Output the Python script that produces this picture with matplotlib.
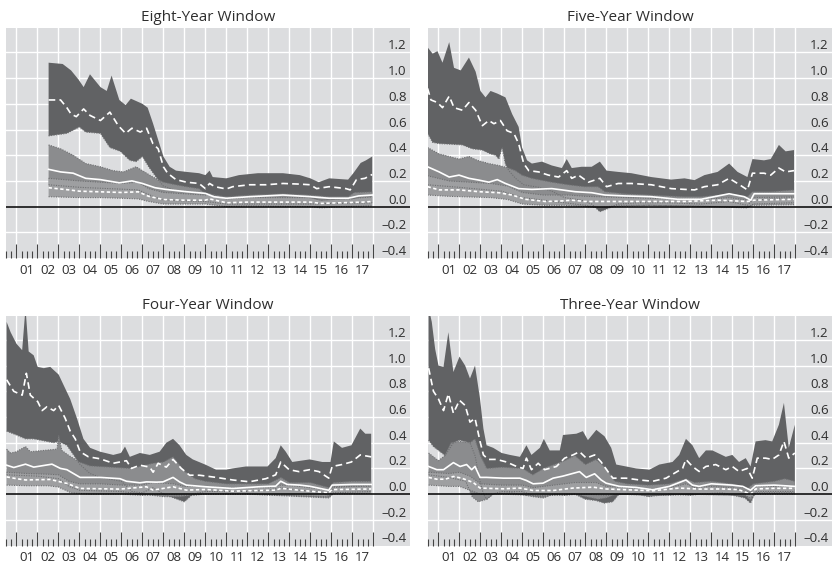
import matplotlib
matplotlib.use("Agg")
import matplotlib.pyplot as plt
import matplotlib.transforms as mtransforms
import numpy as np

plt.rcParams["font.family"] = ["Open Sans", "DejaVu Sans"]

# --- data: (year, value) pairs ------------------------------------------
# Eight-year window
W8_DARK_HI = [(2002.53, 1.12), (2003.2, 1.11), (2003.6, 1.06), (2003.95, 0.99), (2004.2, 0.93),
              (2004.5, 1.03), (2005.0, 0.93), (2005.3, 0.90), (2005.53, 1.02), (2005.9, 0.83),
              (2006.2, 0.79), (2006.45, 0.84), (2007.0, 0.80), (2007.25, 0.77), (2007.5, 0.65),
              (2007.75, 0.52), (2008.0, 0.39), (2008.3, 0.31), (2008.6, 0.28), (2009.1, 0.27),
              (2009.7, 0.26), (2010.0, 0.245), (2010.2, 0.28), (2010.35, 0.23), (2011.0, 0.22),
              (2011.6, 0.245), (2012.5, 0.26), (2013.7, 0.26), (2014.5, 0.245), (2015.0, 0.22),
              (2015.4, 0.19), (2015.9, 0.22), (2016.8, 0.21), (2017.05, 0.26), (2017.4, 0.34),
              (2017.65, 0.36), (2017.95, 0.39)]
W8_DARK_LO = [(2002.53, 0.55), (2003.4, 0.57), (2004.0, 0.62), (2004.3, 0.58), (2005.0, 0.57),
              (2005.45, 0.46), (2005.95, 0.43), (2006.4, 0.36), (2006.7, 0.35), (2007.0, 0.39),
              (2007.3, 0.31), (2007.7, 0.22), (2008.0, 0.16), (2008.5, 0.13), (2009.0, 0.12),
              (2009.7, 0.11), (2010.2, 0.10), (2011.0, 0.07), (2012.0, 0.08), (2013.0, 0.09),
              (2014.0, 0.09), (2015.0, 0.07), (2015.5, 0.05), (2016.5, 0.06), (2017.0, 0.06),
              (2017.5, 0.08), (2017.95, 0.09)]
W8_DARK_MID = [(2002.53, 0.83), (2003.1, 0.83), (2003.4, 0.77), (2003.6, 0.72), (2003.85, 0.70),
               (2004.2, 0.76), (2004.5, 0.71), (2005.0, 0.67), (2005.45, 0.735), (2005.85, 0.63),
               (2006.2, 0.57), (2006.5, 0.61), (2006.9, 0.58), (2007.2, 0.61), (2007.5, 0.49),
               (2007.75, 0.45), (2008.0, 0.31), (2008.2, 0.26), (2008.6, 0.21), (2009.1, 0.19),
               (2009.7, 0.18), (2010.0, 0.14), (2010.2, 0.18), (2010.45, 0.155), (2011.0, 0.137),
               (2011.3, 0.155), (2012.1, 0.17), (2012.9, 0.17), (2013.7, 0.18), (2014.5, 0.175),
               (2015.0, 0.17), (2015.3, 0.14), (2015.9, 0.155), (2016.7, 0.14), (2016.9, 0.13),
               (2017.2, 0.21), (2017.6, 0.22), (2017.95, 0.25)]
W8_MED_HI = [(2002.53, 0.48), (2003.1, 0.45), (2003.7, 0.40), (2004.3, 0.335), (2005.0, 0.31),
             (2005.6, 0.28), (2006.1, 0.27), (2006.7, 0.31), (2007.0, 0.28), (2007.5, 0.23),
             (2008.0, 0.19), (2008.6, 0.17), (2009.1, 0.155), (2009.7, 0.14), (2010.0, 0.10),
             (2011.0, 0.077), (2012.1, 0.09), (2013.7, 0.10), (2015.0, 0.09), (2015.9, 0.077),
             (2016.8, 0.077), (2017.1, 0.11), (2017.95, 0.115)]
W8_MED_MID = [(2002.53, 0.29), (2003.1, 0.27), (2003.7, 0.26), (2004.3, 0.22), (2005.0, 0.21),
              (2005.9, 0.185), (2006.5, 0.20), (2007.0, 0.18), (2007.6, 0.147), (2008.1, 0.134),
              (2009.1, 0.116), (2010.0, 0.103), (2010.4, 0.077), (2011.0, 0.065), (2012.1, 0.077),
              (2013.7, 0.09), (2015.0, 0.077), (2015.9, 0.065), (2016.8, 0.065), (2017.3, 0.083),
              (2017.95, 0.09)]
W8_MED_LO = [(2002.53, 0.17), (2004.0, 0.15), (2006.8, 0.13), (2007.5, 0.08), (2008.0, 0.05),
             (2010.0, 0.04), (2011.0, 0.02), (2015.0, 0.02), (2017.95, 0.03)]
W8_LIGHT_HI = [(2002.53, 0.22), (2004.0, 0.20), (2005.0, 0.19), (2006.0, 0.18), (2006.8, 0.19),
               (2007.3, 0.14), (2008.0, 0.11), (2009.0, 0.10), (2010.0, 0.09), (2010.2, 0.10),
               (2011.0, 0.06), (2012.0, 0.07), (2015.0, 0.07), (2015.5, 0.05), (2016.5, 0.06),
               (2017.5, 0.07), (2017.95, 0.075)]
W8_LIGHT_MID = [(2002.53, 0.147), (2003.5, 0.13), (2004.0, 0.12), (2005.0, 0.115), (2006.0, 0.11),
                (2006.8, 0.115), (2007.3, 0.08), (2008.0, 0.055), (2009.0, 0.05), (2010.0, 0.05),
                (2010.2, 0.06), (2011.0, 0.03), (2012.0, 0.035), (2015.0, 0.035), (2015.5, 0.025),
                (2016.5, 0.03), (2017.5, 0.035), (2017.95, 0.04)]
W8_LIGHT_LO = [(2002.53, 0.077), (2004.0, 0.07), (2005.0, 0.07), (2006.0, 0.065), (2006.8, 0.06),
               (2007.3, 0.04), (2008.0, 0.02), (2009.0, 0.02), (2010.0, 0.02), (2011.0, 0.0),
               (2012.0, 0.005), (2015.0, 0.0), (2015.5, -0.01), (2016.5, 0.0), (2017.95, 0.005)]

# Five-year window
W5_DARK_HI = [(2000.48, 1.24), (2000.72, 1.19), (2000.95, 1.21), (2001.19, 1.12), (2001.51, 1.28),
              (2001.74, 1.08), (2002.06, 1.06), (2002.45, 1.16), (2002.77, 1.05), (2003.0, 0.90),
              (2003.24, 0.85), (2003.48, 0.90), (2003.8, 0.88), (2004.19, 0.85), (2004.51, 0.72),
              (2004.82, 0.62), (2004.98, 0.46), (2005.22, 0.36), (2005.45, 0.335), (2005.93, 0.35),
              (2006.4, 0.32), (2006.88, 0.30), (2007.11, 0.37), (2007.35, 0.30), (2007.82, 0.31),
              (2008.3, 0.31), (2008.69, 0.35), (2009.01, 0.28), (2009.56, 0.27), (2010.19, 0.26),
              (2011.14, 0.23), (2012.09, 0.21), (2012.72, 0.22), (2013.2, 0.206), (2013.67, 0.245),
              (2014.3, 0.27), (2014.85, 0.335), (2015.25, 0.27), (2015.72, 0.23), (2015.96, 0.37),
              (2016.51, 0.36), (2016.83, 0.37), (2017.22, 0.48), (2017.54, 0.43), (2017.94, 0.44)]
W5_DARK_LO = [(2000.48, 0.57), (2000.72, 0.50), (2001.03, 0.49), (2001.66, 0.485), (2002.14, 0.48),
              (2002.61, 0.45), (2003.09, 0.44), (2003.48, 0.41), (2003.72, 0.40), (2003.88, 0.37),
              (2004.03, 0.46), (2004.19, 0.33), (2004.35, 0.28), (2004.67, 0.22), (2005.06, 0.17),
              (2005.77, 0.15), (2006.4, 0.12), (2007.0, 0.07), (2007.82, 0.05), (2008.3, 0.02),
              (2008.69, -0.04), (2009.01, -0.02), (2009.56, 0.02), (2010.5, 0.03), (2012.0, 0.03),
              (2013.5, 0.02), (2014.85, 0.04), (2015.72, 0.01), (2015.96, 0.05), (2017.0, 0.06),
              (2017.94, 0.07)]
W5_DARK_MID = [(2000.48, 0.92), (2000.64, 0.83), (2000.95, 0.81), (2001.19, 0.77), (2001.51, 0.86),
               (2001.74, 0.77), (2002.14, 0.75), (2002.45, 0.81), (2002.77, 0.75), (2003.09, 0.63),
               (2003.4, 0.67), (2003.64, 0.645), (2003.95, 0.67), (2004.27, 0.59), (2004.59, 0.57),
               (2004.82, 0.49), (2005.06, 0.335), (2005.3, 0.28), (2005.77, 0.27), (2006.24, 0.245),
               (2006.72, 0.23), (2007.11, 0.28), (2007.35, 0.22), (2007.67, 0.245), (2008.14, 0.19),
               (2008.69, 0.22), (2009.01, 0.155), (2009.56, 0.18), (2010.19, 0.18), (2011.14, 0.17),
               (2012.09, 0.14), (2012.72, 0.134), (2013.2, 0.13), (2013.67, 0.155), (2014.3, 0.17),
               (2014.85, 0.22), (2015.25, 0.18), (2015.72, 0.13), (2015.96, 0.26), (2016.51, 0.26),
               (2016.83, 0.245), (2017.22, 0.30), (2017.54, 0.27), (2017.94, 0.28)]
W5_MED_HI = [(2000.48, 0.46), (2001.03, 0.41), (2001.51, 0.39), (2001.98, 0.37), (2002.45, 0.39),
             (2002.85, 0.36), (2003.4, 0.335), (2003.88, 0.32), (2004.35, 0.30), (2004.67, 0.28),
             (2004.98, 0.245), (2005.45, 0.22), (2006.4, 0.19), (2007.19, 0.17), (2007.98, 0.155),
             (2008.61, 0.155), (2008.93, 0.116), (2009.88, 0.10), (2011.14, 0.09), (2012.72, 0.077),
             (2013.51, 0.077), (2014.3, 0.09), (2014.93, 0.10), (2015.72, 0.077), (2015.96, 0.116),
             (2016.83, 0.116), (2017.94, 0.13)]
W5_MED_MID = [(2000.48, 0.31), (2001.03, 0.27), (2001.51, 0.23), (2001.98, 0.245), (2002.45, 0.22),
              (2002.93, 0.206), (2003.4, 0.19), (2003.8, 0.21), (2004.19, 0.18), (2004.82, 0.14),
              (2005.45, 0.134), (2006.4, 0.14), (2006.88, 0.13), (2007.51, 0.116), (2008.3, 0.108),
              (2008.93, 0.09), (2009.88, 0.083), (2011.14, 0.077), (2012.41, 0.057), (2013.51, 0.057),
              (2014.85, 0.10), (2015.57, 0.077), (2015.88, 0.05), (2016.04, 0.10), (2017.94, 0.10)]
W5_MED_LO = [(2000.48, 0.17), (2002.0, 0.15), (2004.0, 0.12), (2005.0, 0.07), (2006.0, 0.05),
             (2007.0, 0.03), (2008.0, 0.01), (2008.7, -0.01), (2009.5, 0.01), (2011.0, 0.01),
             (2014.0, 0.0), (2015.7, -0.01), (2016.0, 0.02), (2017.94, 0.03)]
W5_LIGHT_HI = [(2000.48, 0.24), (2001.5, 0.20), (2002.5, 0.19), (2003.5, 0.18), (2004.3, 0.16),
               (2005.0, 0.11), (2006.0, 0.09), (2007.2, 0.09), (2008.0, 0.08), (2009.0, 0.075),
               (2010.0, 0.07), (2012.0, 0.06), (2014.0, 0.06), (2014.85, 0.07), (2015.72, 0.05),
               (2016.0, 0.07), (2017.94, 0.075)]
W5_LIGHT_MID = [(2000.48, 0.155), (2001.03, 0.13), (2001.98, 0.13), (2002.93, 0.116), (2003.88, 0.108),
                (2004.51, 0.09), (2005.14, 0.057), (2006.09, 0.04), (2006.88, 0.044), (2007.35, 0.05),
                (2007.98, 0.04), (2008.93, 0.04), (2009.88, 0.04), (2011.14, 0.04), (2012.72, 0.04),
                (2014.3, 0.05), (2015.72, 0.04), (2016.04, 0.05), (2017.94, 0.057)]
W5_LIGHT_LO = [(2000.48, 0.09), (2001.5, 0.08), (2002.5, 0.075), (2003.5, 0.07), (2004.3, 0.055),
               (2005.0, 0.02), (2006.0, 0.01), (2007.0, 0.01), (2008.0, 0.0), (2008.7, -0.01),
               (2009.5, 0.0), (2011.0, 0.01), (2013.0, 0.005), (2015.7, -0.005), (2016.0, 0.01),
               (2017.94, 0.015)]

# Four-year window
W4_DARK_HI = [(2000.53, 1.34), (2000.72, 1.26), (2001.0, 1.17), (2001.27, 1.12), (2001.43, 1.45),
              (2001.58, 1.11), (2001.82, 1.08), (2002.01, 0.99), (2002.3, 0.98), (2002.61, 0.99),
              (2003.01, 0.93), (2003.24, 0.85), (2003.56, 0.74), (2003.88, 0.59), (2004.19, 0.43),
              (2004.51, 0.36), (2004.98, 0.33), (2005.61, 0.305), (2005.98, 0.32), (2006.17, 0.37),
              (2006.4, 0.29), (2006.88, 0.32), (2007.35, 0.305), (2007.82, 0.33), (2008.14, 0.40),
              (2008.46, 0.43), (2008.77, 0.38), (2009.09, 0.305), (2009.4, 0.27), (2009.99, 0.23),
              (2010.51, 0.19), (2010.98, 0.19), (2011.3, 0.20), (2011.93, 0.215), (2012.96, 0.215),
              (2013.35, 0.28), (2013.59, 0.38), (2013.83, 0.33), (2014.14, 0.25), (2014.97, 0.27),
              (2015.57, 0.25), (2015.96, 0.25), (2016.12, 0.41), (2016.51, 0.36), (2016.96, 0.38),
              (2017.38, 0.51), (2017.62, 0.47), (2017.9, 0.47)]
W4_DARK_LO = [(2000.53, 0.49), (2001.0, 0.46), (2001.43, 0.43), (2001.82, 0.43), (2002.45, 0.41),
              (2002.77, 0.40), (2003.01, 0.41), (2003.4, 0.38), (2003.72, 0.305), (2004.03, 0.23),
              (2004.5, 0.16), (2005.0, 0.13), (2006.0, 0.10), (2006.5, 0.02), (2007.0, 0.01),
              (2007.5, 0.05), (2008.0, 0.0), (2008.5, -0.03), (2009.0, -0.06), (2009.4, 0.0),
              (2010.0, 0.02), (2011.0, 0.02), (2012.0, 0.02), (2013.0, 0.03), (2013.6, 0.05),
              (2014.5, 0.03), (2015.5, 0.02), (2015.9, -0.02), (2016.1, 0.05), (2017.0, 0.06),
              (2017.9, 0.07)]
W4_DARK_MID = [(2000.53, 0.89), (2000.87, 0.80), (2001.27, 0.77), (2001.47, 0.94), (2001.66, 0.77),
               (2002.01, 0.72), (2002.22, 0.65), (2002.45, 0.68), (2002.77, 0.65), (2003.01, 0.69),
               (2003.32, 0.59), (2003.56, 0.49), (2003.8, 0.43), (2004.03, 0.33), (2004.43, 0.29),
               (2004.98, 0.275), (2005.61, 0.24), (2006.24, 0.26), (2006.48, 0.20), (2006.88, 0.225),
               (2007.35, 0.21), (2007.51, 0.17), (2007.75, 0.24), (2008.14, 0.21), (2008.46, 0.27),
               (2008.85, 0.20), (2009.25, 0.147), (2009.72, 0.147), (2010.51, 0.13), (2011.3, 0.11),
               (2012.1, 0.096), (2012.88, 0.12), (2013.35, 0.15), (2013.59, 0.25), (2013.99, 0.19),
               (2014.46, 0.175), (2014.97, 0.19), (2015.41, 0.175), (2015.88, 0.124), (2016.04, 0.215),
               (2016.51, 0.23), (2016.96, 0.25), (2017.38, 0.305), (2017.9, 0.29)]
W4_MED_HI = [(2000.53, 0.35), (2000.72, 0.32), (2001.0, 0.33), (2001.43, 0.37), (2001.66, 0.33),
             (2002.3, 0.34), (2002.93, 0.35), (2003.01, 0.46), (2003.16, 0.34), (2003.5, 0.30),
             (2004.0, 0.25), (2004.5, 0.22), (2005.5, 0.21), (2006.5, 0.20), (2007.5, 0.24),
             (2008.0, 0.25), (2008.46, 0.29), (2009.0, 0.18), (2009.5, 0.12), (2010.0, 0.10),
             (2011.0, 0.08), (2012.0, 0.08), (2013.0, 0.08), (2013.6, 0.13), (2014.0, 0.09),
             (2015.0, 0.09), (2015.9, 0.05), (2016.1, 0.09), (2017.0, 0.10), (2017.9, 0.10)]
W4_MED_MID = [(2000.53, 0.225), (2000.87, 0.207), (2001.43, 0.233), (2001.82, 0.21), (2002.69, 0.233),
              (2003.09, 0.20), (2003.4, 0.19), (2004.03, 0.13), (2004.98, 0.13), (2005.93, 0.12),
              (2006.24, 0.10), (2006.88, 0.088), (2007.19, 0.095), (2007.67, 0.093), (2007.98, 0.095),
              (2008.46, 0.13), (2008.77, 0.095), (2009.09, 0.07), (2010.04, 0.057), (2011.3, 0.044),
              (2012.56, 0.057), (2013.35, 0.062), (2013.59, 0.10), (2013.9, 0.075), (2014.5, 0.07),
              (2015.0, 0.06), (2015.88, 0.03), (2016.04, 0.07), (2017.0, 0.075), (2017.9, 0.075)]
W4_MED_LO = [(2000.53, 0.15), (2002.0, 0.14), (2003.0, 0.12), (2003.5, 0.06), (2004.0, 0.03),
             (2006.0, 0.02), (2007.0, 0.0), (2008.0, -0.02), (2008.8, -0.02), (2009.3, -0.01),
             (2010.0, 0.0), (2012.0, 0.0), (2015.9, -0.03), (2016.1, 0.01), (2017.9, 0.02)]
W4_LIGHT_HI = [(2000.53, 0.17), (2001.5, 0.16), (2002.5, 0.155), (2003.0, 0.15), (2003.5, 0.10),
               (2004.0, 0.08), (2005.0, 0.08), (2006.0, 0.07), (2007.0, 0.07), (2007.5, 0.09),
               (2008.5, 0.08), (2009.0, 0.06), (2010.0, 0.06), (2011.0, 0.05), (2012.0, 0.05),
               (2013.0, 0.05), (2013.6, 0.07), (2014.5, 0.06), (2015.9, 0.03), (2016.1, 0.06),
               (2017.9, 0.06)]
W4_LIGHT_MID = [(2000.53, 0.134), (2001.0, 0.12), (2001.43, 0.11), (2002.61, 0.114), (2003.4, 0.083),
                (2004.03, 0.044), (2005.93, 0.039), (2007.19, 0.057), (2007.51, 0.031), (2008.46, 0.057),
                (2009.09, 0.031), (2010.04, 0.036), (2011.3, 0.023), (2013.35, 0.031), (2013.6, 0.045),
                (2014.5, 0.03), (2015.88, 0.01), (2016.04, 0.035), (2017.9, 0.04)]
W4_LIGHT_LO = [(2000.53, 0.07), (2001.5, 0.065), (2002.5, 0.065), (2003.0, 0.055), (2003.6, 0.01),
               (2004.5, 0.0), (2006.0, 0.0), (2007.0, -0.01), (2008.0, 0.0), (2009.0, -0.01),
               (2010.0, 0.0), (2012.0, 0.0), (2015.9, -0.02), (2016.1, 0.0), (2017.9, 0.005)]

# Three-year window
W3_DARK_HI = [(2000.53, 1.45), (2000.68, 1.34), (2000.84, 1.13), (2001.0, 1.0), (2001.24, 0.99),
              (2001.47, 1.26), (2001.71, 0.95), (2002.0, 1.07), (2002.27, 1.0), (2002.5, 0.9),
              (2002.74, 1.0), (2002.98, 0.74), (2003.14, 0.51), (2003.29, 0.38), (2003.61, 0.36),
              (2004.01, 0.32), (2004.4, 0.305), (2004.88, 0.29), (2005.19, 0.38), (2005.43, 0.305),
              (2005.83, 0.36), (2006.02, 0.43), (2006.3, 0.34), (2006.78, 0.34), (2006.93, 0.46),
              (2007.57, 0.47), (2007.88, 0.49), (2008.12, 0.42), (2008.52, 0.50), (2008.91, 0.45),
              (2009.23, 0.36), (2009.47, 0.23), (2009.94, 0.215), (2010.41, 0.20), (2011.05, 0.19),
              (2011.52, 0.23), (2012.15, 0.25), (2012.47, 0.305), (2012.79, 0.43), (2013.1, 0.38),
              (2013.42, 0.28), (2013.74, 0.34), (2014.05, 0.34), (2014.69, 0.29), (2015.0, 0.305),
              (2015.32, 0.25), (2015.64, 0.28), (2015.87, 0.215), (2016.11, 0.41), (2016.58, 0.42),
              (2016.9, 0.41), (2017.22, 0.54), (2017.46, 0.71), (2017.69, 0.36), (2017.98, 0.54)]
W3_DARK_LO = [(2000.53, 0.42), (2000.76, 0.37), (2001.0, 0.34), (2001.32, 0.30), (2001.71, 0.40),
              (2002.0, 0.42), (2002.5, 0.40), (2002.74, 0.30), (2002.98, 0.10), (2003.14, 0.0),
              (2003.3, -0.04), (2003.6, 0.0), (2004.0, 0.02), (2005.0, 0.02), (2005.5, -0.01),
              (2006.0, -0.02), (2006.5, 0.0), (2007.0, -0.01), (2007.5, 0.0), (2008.0, -0.04),
              (2008.5, -0.05), (2008.9, -0.07), (2009.3, -0.06), (2009.6, 0.0), (2010.5, 0.0),
              (2011.0, -0.02), (2011.5, -0.01), (2012.0, 0.0), (2013.0, -0.01), (2013.5, 0.0),
              (2014.5, 0.01), (2015.6, -0.03), (2015.87, -0.07), (2016.11, 0.02), (2017.0, 0.02),
              (2017.98, 0.02)]
W3_DARK_MID = [(2000.53, 0.98), (2000.76, 0.80), (2001.0, 0.74), (2001.24, 0.65), (2001.47, 0.78),
               (2001.71, 0.63), (2002.0, 0.73), (2002.27, 0.69), (2002.5, 0.56), (2002.74, 0.59),
               (2002.98, 0.41), (2003.14, 0.305), (2003.37, 0.27), (2003.77, 0.27), (2004.24, 0.25),
               (2004.72, 0.215), (2005.03, 0.20), (2005.19, 0.28), (2005.43, 0.19), (2005.75, 0.24),
               (2006.06, 0.19), (2006.62, 0.215), (2007.01, 0.28), (2007.41, 0.305), (2007.72, 0.33),
               (2008.04, 0.28), (2008.44, 0.305), (2008.75, 0.25), (2009.07, 0.176), (2009.31, 0.124),
               (2009.94, 0.124), (2010.57, 0.11), (2011.21, 0.10), (2011.84, 0.124), (2012.63, 0.20),
               (2012.79, 0.27), (2013.1, 0.215), (2013.42, 0.176), (2013.74, 0.215), (2014.21, 0.23),
               (2014.69, 0.19), (2015.0, 0.215), (2015.32, 0.176), (2015.71, 0.20), (2015.95, 0.124),
               (2016.19, 0.28), (2016.58, 0.28), (2016.9, 0.27), (2017.22, 0.305), (2017.46, 0.41),
               (2017.69, 0.28), (2017.98, 0.32)]
W3_MED_HI = [(2000.53, 0.32), (2000.84, 0.28), (2001.0, 0.26), (2001.3, 0.30), (2001.6, 0.40),
             (2002.0, 0.41), (2002.5, 0.40), (2002.74, 0.43), (2003.0, 0.30), (2003.3, 0.20),
             (2004.0, 0.21), (2005.0, 0.20), (2005.5, 0.15), (2006.0, 0.20), (2006.5, 0.23),
             (2007.0, 0.26), (2007.5, 0.30), (2008.0, 0.23), (2008.5, 0.27), (2009.0, 0.20),
             (2009.4, 0.10), (2010.0, 0.08), (2011.0, 0.07), (2012.0, 0.08), (2012.8, 0.12),
             (2013.2, 0.09), (2014.0, 0.10), (2015.0, 0.08), (2015.7, 0.04), (2016.0, 0.08),
             (2017.0, 0.10), (2017.5, 0.12), (2017.98, 0.10)]
W3_MED_MID = [(2000.53, 0.215), (2000.92, 0.19), (2001.24, 0.19), (2001.71, 0.245), (2002.03, 0.215),
              (2002.34, 0.23), (2002.58, 0.19), (2002.74, 0.215), (2002.98, 0.13), (2003.29, 0.13),
              (2004.09, 0.124), (2004.88, 0.124), (2005.19, 0.106), (2005.51, 0.08), (2005.98, 0.085),
              (2006.46, 0.124), (2006.93, 0.14), (2007.72, 0.175), (2008.04, 0.13), (2008.44, 0.158),
              (2008.75, 0.11), (2008.99, 0.085), (2009.62, 0.06), (2010.41, 0.052), (2011.21, 0.034),
              (2012.0, 0.06), (2012.63, 0.10), (2012.79, 0.11), (2013.1, 0.07), (2013.42, 0.06),
              (2014.0, 0.08), (2015.0, 0.07), (2015.5, 0.06), (2015.87, 0.03), (2016.11, 0.065),
              (2017.0, 0.07), (2017.98, 0.06)]
W3_MED_LO = [(2000.53, 0.15), (2001.5, 0.13), (2002.3, 0.10), (2002.6, -0.02), (2002.9, -0.06),
             (2003.3, -0.04), (2003.6, 0.0), (2004.5, 0.01), (2005.5, -0.02), (2006.0, -0.03),
             (2006.5, 0.0), (2007.5, 0.0), (2008.0, -0.02), (2008.6, -0.04), (2009.0, -0.03),
             (2009.5, 0.0), (2011.0, -0.01), (2012.0, -0.01), (2013.0, 0.0), (2015.6, -0.01),
             (2015.87, -0.05), (2016.1, 0.01), (2017.98, 0.01)]
W3_LIGHT_HI = [(2000.53, 0.17), (2001.5, 0.16), (2002.0, 0.17), (2002.5, 0.14), (2003.0, 0.08),
               (2004.0, 0.07), (2005.0, 0.07), (2005.5, 0.05), (2006.5, 0.07), (2007.5, 0.09),
               (2008.5, 0.09), (2009.0, 0.06), (2010.0, 0.05), (2011.0, 0.04), (2012.0, 0.05),
               (2012.8, 0.08), (2013.2, 0.05), (2014.0, 0.06), (2015.0, 0.05), (2015.87, 0.01),
               (2016.1, 0.06), (2017.98, 0.06)]
W3_LIGHT_MID = [(2000.53, 0.13), (2000.92, 0.116), (2001.32, 0.116), (2001.71, 0.137), (2002.11, 0.124),
                (2002.66, 0.09), (2002.98, 0.047), (2004.09, 0.041), (2004.88, 0.047), (2005.51, 0.028),
                (2006.46, 0.028), (2007.41, 0.047), (2008.36, 0.054), (2008.99, 0.04), (2009.94, 0.034),
                (2011.21, 0.026), (2012.47, 0.047), (2013.42, 0.039), (2014.5, 0.04), (2015.3, 0.035),
                (2015.87, 0.0), (2016.11, 0.04), (2017.0, 0.045), (2017.98, 0.045)]
W3_LIGHT_LO = [(2000.53, 0.07), (2001.5, 0.06), (2002.0, 0.06), (2002.5, 0.03), (2003.0, 0.0),
               (2004.0, 0.0), (2005.5, -0.01), (2006.5, -0.01), (2008.0, 0.0), (2009.0, -0.01),
               (2010.0, 0.0), (2011.0, -0.01), (2012.5, 0.0), (2015.6, -0.01), (2015.87, -0.03),
               (2016.1, 0.0), (2017.98, 0.0)]

TITLES = ["Eight-Year Window", "Five-Year Window", "Four-Year Window", "Three-Year Window"]
YEAR_LABELS = ["01", "02", "03", "04", "05", "06", "07", "08", "09",
               "10", "11", "12", "13", "14", "15", "16", "17"]
Y_TICKS = [-0.4, -0.2, 0.0, 0.2, 0.4, 0.6, 0.8, 1.0, 1.2]

# --- style ------------------------------------------------------------------
BG = "#dcdddf"
DARK = "#616264"
MED = "#8b8c8e"
LIGHT = "#9e9fa1"
EDGE = "#6e6f71"
TEXT = "#2e2e2e"
X_MIN, X_MAX = 2000.5, 2019.75
Y_MIN, Y_MAX = -0.4, 1.39
FIRST_YEAR, LAST_YEAR = 2001, 2018


def xy(pairs):
    a = np.asarray(pairs, dtype=float)
    return a[:, 0], a[:, 1]


def band(ax, hi, lo, color):
    xh, yh = xy(hi)
    xl, yl = xy(lo)
    ax.fill(np.r_[xh, xl[::-1]], np.r_[yh, yl[::-1]], color=color, lw=0, zorder=2)


def draw_panel(ax, title, series):
    dark_hi, dark_lo, dark_mid, med_hi, med_mid, med_lo, light_hi, light_mid, light_lo = series
    ax.set_facecolor(BG)
    ax.set_xlim(X_MIN, X_MAX)
    ax.set_ylim(Y_MIN, Y_MAX)
    for s in ax.spines.values():
        s.set_visible(False)

    # white grid
    for yr in range(FIRST_YEAR, LAST_YEAR + 1):
        ax.axvline(yr, color="white", lw=1.0, zorder=1)
    for v in Y_TICKS[1:]:
        if v != 0:
            ax.axhline(v, color="white", lw=1.0, zorder=1)

    # bands
    band(ax, dark_hi, dark_lo, DARK)
    band(ax, med_hi, med_lo, MED)
    band(ax, light_hi, light_lo, LIGHT)

    # dotted band edges
    for edge in (dark_lo, med_hi, med_lo, light_hi, light_lo):
        ex, ey = xy(edge)
        ax.plot(ex, ey, color=EDGE, lw=0.8, ls=(0, (1, 1.2)), zorder=3)

    # centre lines
    x, y = xy(dark_mid)
    ax.plot(x, y, color="white", lw=1.2, ls=(0, (4, 2.5)), zorder=4)
    x, y = xy(med_mid)
    ax.plot(x, y, color="white", lw=1.2, zorder=4)
    x, y = xy(light_mid)
    ax.plot(x, y, color="white", lw=1.2, ls=(0, (2, 1.5)), zorder=4)

    ax.axhline(0, color="black", lw=1.1, zorder=5)

    # right-hand value labels sitting above their gridlines
    ytrans = mtransforms.blended_transform_factory(ax.transAxes, ax.transData)
    for v in Y_TICKS:
        lbl = f"{v:.1f}".replace("-", "\u2013")
        ax.text(0.992, v, lbl, transform=ytrans, ha="right", va="bottom",
                fontsize=9.5, color=TEXT, zorder=6)

    # quarterly ticks inside the bottom edge
    ax.set_xticks(np.arange(FIRST_YEAR, LAST_YEAR + 1))
    ax.set_xticks(np.arange(X_MIN, LAST_YEAR + 0.01, 0.25), minor=True)
    ax.tick_params(axis="x", which="major", direction="in", length=10, width=0.8,
                   color="#444444", labelbottom=False)
    ax.tick_params(axis="x", which="minor", direction="in", length=5, width=0.8,
                   color="#444444")
    ax.set_yticks([])

    xtrans = mtransforms.blended_transform_factory(ax.transData, ax.transAxes)
    for i, lab in enumerate(YEAR_LABELS):
        ax.text(FIRST_YEAR + i + 0.5, -0.025, lab, transform=xtrans, ha="center",
                va="top", fontsize=9.5, color=TEXT)

    ax.set_title(title, fontsize=11, color=TEXT, pad=5)


fig = plt.figure(figsize=(8.34, 5.69), dpi=100)
positions = [
    [6 / 834, 1 - 258 / 569, 404 / 834, 230 / 569],
    [428 / 834, 1 - 258 / 569, 404 / 834, 230 / 569],
    [6 / 834, 1 - 545.5 / 569, 404 / 834, 230 / 569],
    [428 / 834, 1 - 545.5 / 569, 404 / 834, 230 / 569],
]
panel_series = [
    (W8_DARK_HI, W8_DARK_LO, W8_DARK_MID, W8_MED_HI, W8_MED_MID, W8_MED_LO,
     W8_LIGHT_HI, W8_LIGHT_MID, W8_LIGHT_LO),
    (W5_DARK_HI, W5_DARK_LO, W5_DARK_MID, W5_MED_HI, W5_MED_MID, W5_MED_LO,
     W5_LIGHT_HI, W5_LIGHT_MID, W5_LIGHT_LO),
    (W4_DARK_HI, W4_DARK_LO, W4_DARK_MID, W4_MED_HI, W4_MED_MID, W4_MED_LO,
     W4_LIGHT_HI, W4_LIGHT_MID, W4_LIGHT_LO),
    (W3_DARK_HI, W3_DARK_LO, W3_DARK_MID, W3_MED_HI, W3_MED_MID, W3_MED_LO,
     W3_LIGHT_HI, W3_LIGHT_MID, W3_LIGHT_LO),
]
for pos, title, series in zip(positions, TITLES, panel_series):
    ax = fig.add_axes(pos)
    draw_panel(ax, title, series)

fig.savefig("out.png", dpi=100, facecolor="white")
plt.close(fig)
